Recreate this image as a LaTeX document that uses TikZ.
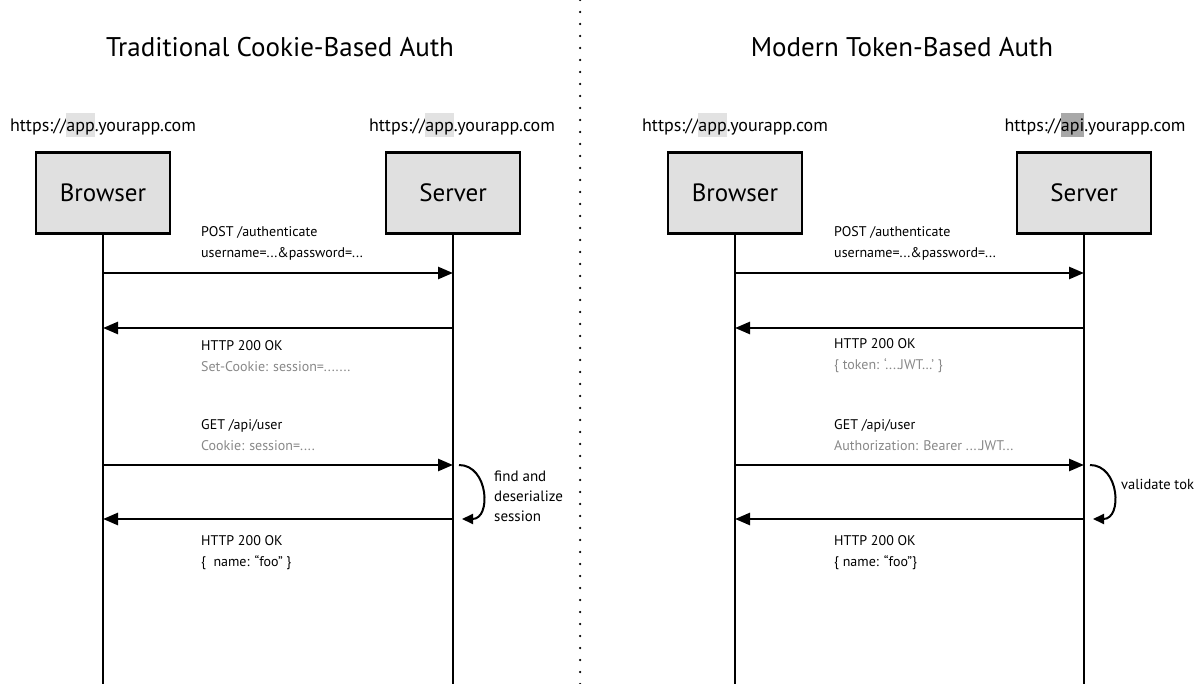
\documentclass[tikz,border=0pt]{standalone}
\usepackage{fontspec}
\setmainfont{PT Sans}
\usepackage{xcolor}
\usetikzlibrary{arrows.meta}

\definecolor{boxgray}{HTML}{E0E0E0}
\definecolor{hostlight}{HTML}{E2E2E2}
\definecolor{hostdark}{HTML}{A8A8A8}
\definecolor{msggray}{HTML}{888888}
\newcommand\hostpart[2]{{\setlength\fboxsep{0pt}\colorbox{#1}{\rule[-0.28em]{0pt}{1.28em}#2}}}

\begin{document}
\begin{tikzpicture}[x=1pt, y=-1pt, text=black,
    party/.style={draw, fill=boxgray, line width=2.5pt, minimum width=134pt, minimum height=81pt,
      font=\fontsize{25}{28}\selectfont},
    url/.style={font=\fontsize{18}{22}\selectfont},
    heading/.style={font=\fontsize{27}{32}\selectfont},
    life/.style={line width=2pt},
    msg/.style={line width=2.5pt, -{Triangle[length=15pt,width=12pt]}},
    work/.style={line width=2pt, -{Triangle[length=11pt,width=10pt]}},
    lbl/.style={anchor=west, align=left, inner sep=0pt, font=\fontsize{14}{21}\selectfont},
    note/.style={anchor=west, align=left, inner sep=0pt, font=\fontsize{15}{20}\selectfont}]
  \useasboundingbox (0,0) rectangle (1195,684);
  \coordinate (bottom) at (0,684);

  \node[heading] (oldT) at (280,47) {Traditional Cookie-Based Auth};
  \node[heading] (newT) at (902,47) {Modern Token-Based Auth};
  \coordinate (divTop) at (580,0);
  \coordinate (divBot) at (580,684);
  \draw[line width=2.5pt, line cap=round, dash pattern=on 0pt off 12pt] (divTop) -- (divBot);

  \node[url] (oldBU) at (103,125)  {https://\hostpart{hostlight}{app}.yourapp.com};
  \node[url] (oldSU) at (462,125)  {https://\hostpart{hostlight}{app}.yourapp.com};
  \node[url] (newBU) at (735,125)  {https://\hostpart{hostlight}{app}.yourapp.com};
  \node[url] (newSU) at (1095,125) {https://\hostpart{hostdark}{api}.yourapp.com};

  \node[party] (oldB) at (103,193)  {Browser};
  \node[party] (oldS) at (453,193)  {Server};
  \node[party] (newB) at (735,193)  {Browser};
  \node[party] (newS) at (1084,193) {Server};
  \foreach \p in {oldB, oldS, newB, newS}
    \draw[life] (\p.south) -- (\p.south |- bottom);

  \foreach \s/\bx/\sx in {old/103/453, new/735/1084}
    \foreach \n/\y in {1/273, 2/328, 3/465, 4/519} {
      \coordinate (\s B\n) at (\bx,\y);
      \coordinate (\s S\n) at (\sx,\y);
    }

  % cookie flow
  \draw[msg] (oldB1) -- (oldS1);
  \draw[msg] (oldS2) -- (oldB2);
  \draw[msg] (oldB3) -- (oldS3);
  \draw[msg] (oldS4) -- (oldB4);
  \draw[work] ([xshift=6pt]oldS3) to[out=0, in=0, looseness=1.4] ([xshift=9pt]oldS4);
  \node[lbl] (oldL1) at (201,243.5) {POST /authenticate\\username=...\&password=...};
  \node[lbl] (oldL2) at (201,356) {HTTP 200 OK\\{\color{msggray}Set-Cookie: session=.......}};
  \node[lbl] (oldL3) at (201,435) {GET /api/user\\{\color{msggray}Cookie: session=....}};
  \node[lbl] (oldL4) at (201,553) {HTTP 200 OK\\\{\ \ name: “foo” \}};
  \node[note] (oldN) at (494,496) {find and\\deserialize\\session};

  % token flow
  \draw[msg] (newB1) -- (newS1);
  \draw[msg] (newS2) -- (newB2);
  \draw[msg] (newB3) -- (newS3);
  \draw[msg] (newS4) -- (newB4);
  \draw[work] ([xshift=6pt]newS3) to[out=0, in=0, looseness=1.4] ([xshift=9pt]newS4);
  \node[lbl] (newL1) at (834,243.5) {POST /authenticate\\username=...\&password=...};
  \node[lbl] (newL2) at (834,356) {HTTP 200 OK\\{\color{msggray}\{ token: ‘....JWT…’ \}}};
  \node[lbl] (newL3) at (834,435) {GET /api/user\\{\color{msggray}Authorization: Bearer ....JWT...}};
  \node[lbl] (newL4) at (834,553) {HTTP 200 OK\\\{ name: “foo”\}};
  \node[note, font=\fontsize{14.5}{20}\selectfont] (newN) at (1121,484) {validate tok};
\end{tikzpicture}
\end{document}
